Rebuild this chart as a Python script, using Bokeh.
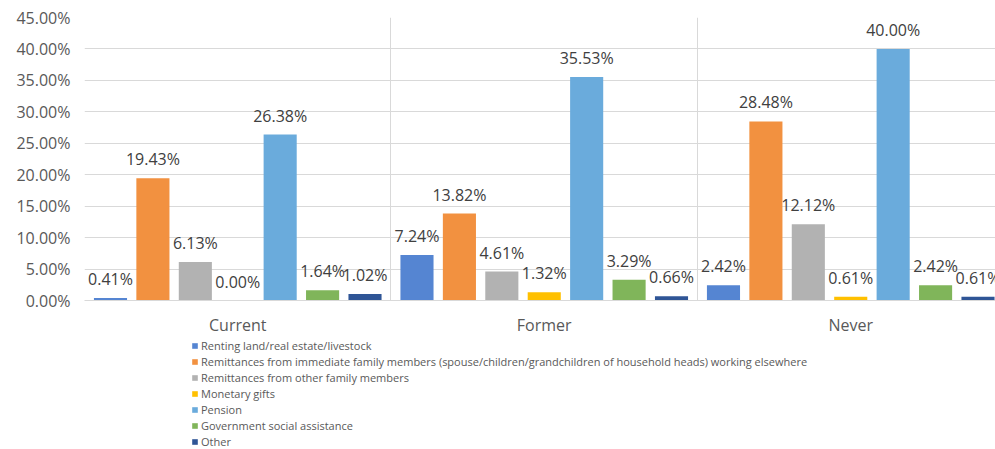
from bokeh.plotting import figure
from bokeh.models import ColumnDataSource, Range1d, FixedTicker, PrintfTickFormatter, Legend, LegendItem
from bokeh.transform import dodge
from bokeh.core.properties import value
from bokeh.layouts import column
from bokeh.embed import file_html
from bokeh.resources import INLINE

categories = ["Current", "Former", "Never"]
series_names = [
    "Renting land/real estate/livestock",
    "Remittances from immediate family members (spouse/children/grandchildren of household heads) working elsewhere",
    "Remittances from other family members",
    "Monetary gifts",
    "Pension",
    "Government social assistance",
    "Other",
]
renting = [0.41, 7.24, 2.42]
remit_immediate = [19.43, 13.82, 28.48]
remit_other = [6.13, 4.61, 12.12]
monetary_gifts = [0.00, 1.32, 0.61]
pension = [26.38, 35.53, 40.00]
gov_assistance = [1.64, 3.29, 2.42]
other = [1.02, 0.66, 0.61]
colors = ["#5585D2", "#F29140", "#B2B2B2", "#FFC000", "#6AABDC", "#80B55A", "#2F5596"]
y_ticks = [0, 5, 10, 15, 20, 25, 30, 35, 40, 45]

series = [renting, remit_immediate, remit_other, monetary_gifts, pension, gov_assistance, other]

FONT = "Open Sans"
GRID = "#d9d9d9"

p = figure(width=995, height=338, output_backend="svg", toolbar_location=None,
           x_range=Range1d(0, 2.9723), y_range=Range1d(0, 45),
           min_border_left=84, min_border_right=0, min_border_top=17, min_border_bottom=0)
p.outline_line_color = None
p.background_fill_color = "white"
p.border_fill_color = "white"

data = {"x": [0.5, 1.5, 2.5]}
for j, s in enumerate(series):
    data[f"s{j}"] = s
    data[f"l{j}"] = ["%.2f%%" % v for v in s]
src = ColumnDataSource(data)

step = 0.1384
width = 0.108
for j in range(len(series)):
    off = (j - 3) * step
    p.vbar(x=dodge("x", off), top=f"s{j}", width=width, source=src,
           fill_color=colors[j], line_color=None)
    p.text(x=dodge("x", off), y=f"s{j}", text=f"l{j}", source=src,
           text_align="center", text_baseline="middle", y_offset=-19,
           text_font=value(FONT), text_font_size="16px", text_color="#404040")

# axes
p.yaxis.ticker = FixedTicker(ticks=y_ticks)
p.yaxis.formatter = PrintfTickFormatter(format="%.2f%%")
p.yaxis.axis_line_color = None
p.yaxis.major_tick_line_color = None
p.yaxis.minor_tick_line_color = None
p.yaxis.major_tick_out = 0
p.yaxis.major_tick_in = 0
p.yaxis.major_label_standoff = 14
p.yaxis.major_label_text_font = FONT
p.yaxis.major_label_text_font_size = "16px"
p.yaxis.major_label_text_color = "#595959"

p.xaxis.ticker = FixedTicker(ticks=[0.5, 1.5, 2.5])
p.xaxis.major_label_overrides = {0.5: categories[0], 1.5: categories[1], 2.5: categories[2]}
p.xaxis.axis_line_color = GRID
p.xaxis.major_tick_line_color = None
p.xaxis.minor_tick_line_color = None
p.xaxis.major_tick_out = 0
p.xaxis.major_tick_in = 0
p.xaxis.major_label_standoff = 13
p.xaxis.major_label_text_font = FONT
p.xaxis.major_label_text_font_size = "16px"
p.xaxis.major_label_text_color = "#595959"

p.ygrid.grid_line_color = GRID
p.xgrid.ticker = FixedTicker(ticks=[0, 1, 2, 3])
p.xgrid.grid_line_color = GRID

# legend panel below the chart
p2 = figure(width=995, height=111, output_backend="svg", toolbar_location=None,
            x_range=Range1d(0, 1), y_range=Range1d(0, 1),
            x_axis_location=None, y_axis_location=None, min_border=0)
p2.outline_line_color = None
p2.xgrid.visible = False
p2.ygrid.visible = False
items = []
for j in range(len(series)):
    r = p2.vbar(x=[0.5], top=[0], width=0.01, fill_color=colors[j], line_color=None)
    items.append(LegendItem(label=series_names[j], renderers=[r]))

legend = Legend(items=items, location=(107, 0), orientation="vertical",
                glyph_width=7, glyph_height=7, label_standoff=3, spacing=1,
                label_height=15, padding=0, margin=0,
                border_line_alpha=0, background_fill_alpha=0,
                label_text_font=FONT, label_text_font_size="11px",
                label_text_color="#595959")
p2.add_layout(legend)

layout = column(p, p2, spacing=0)
open("out.html", "w").write(file_html(layout, INLINE))
